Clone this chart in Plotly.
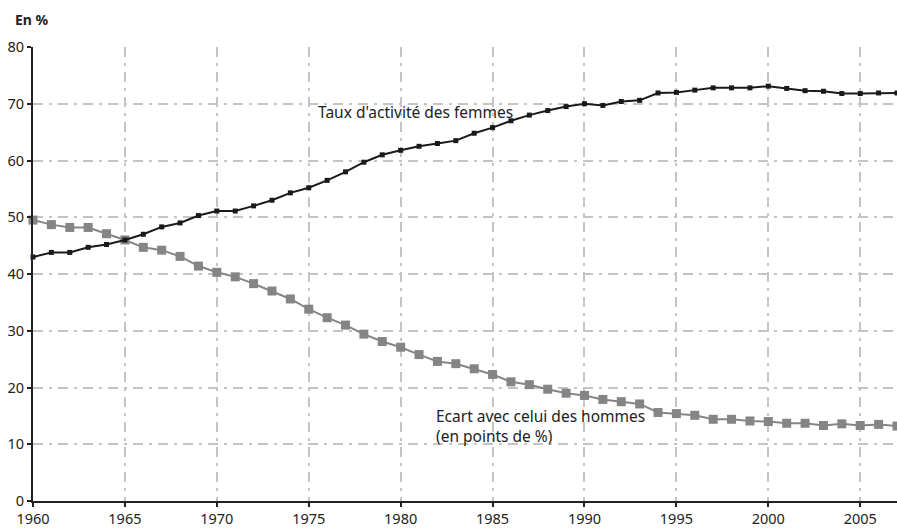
import plotly.graph_objects as go

years = list(range(1960, 2008))
taux_femmes = [43.0, 43.8, 43.8, 44.7, 45.2, 46.0, 47.0, 48.3, 49.0, 50.3,
               51.1, 51.1, 52.0, 53.0, 54.3, 55.2, 56.5, 58.0, 59.7, 61.0,
               61.8, 62.5, 63.0, 63.5, 64.8, 65.8, 67.0, 68.0, 68.8, 69.5,
               70.0, 69.7, 70.4, 70.6, 71.9, 72.0, 72.4, 72.8, 72.8, 72.8,
               73.1, 72.7, 72.3, 72.2, 71.8, 71.8, 71.9, 71.9]
ecart_hommes = [49.5, 48.7, 48.2, 48.2, 47.1, 46.0, 44.7, 44.2, 43.1, 41.4,
                40.3, 39.5, 38.3, 37.0, 35.6, 33.8, 32.3, 31.0, 29.4, 28.1,
                27.1, 25.8, 24.6, 24.2, 23.3, 22.3, 21.0, 20.5, 19.7, 19.0,
                18.6, 17.9, 17.5, 17.1, 15.6, 15.4, 15.1, 14.4, 14.4, 14.1,
                14.0, 13.7, 13.7, 13.3, 13.6, 13.3, 13.5, 13.2]
x_ticks = [1960, 1965, 1970, 1975, 1980, 1985, 1990, 1995, 2000, 2005]
y_ticks = [0, 10, 20, 30, 40, 50, 60, 70, 80]

FONT = "Noto Sans"

fig = go.Figure()
fig.add_trace(go.Scatter(
    x=years, y=ecart_hommes, mode="lines+markers",
    line=dict(color="#858585", width=2),
    marker=dict(symbol="square", size=9, color="#858585"),
    showlegend=False, cliponaxis=False))
fig.add_trace(go.Scatter(
    x=years, y=taux_femmes, mode="lines+markers",
    line=dict(color="#1a1a1a", width=2),
    marker=dict(symbol="square", size=5, color="#1a1a1a"),
    showlegend=False, cliponaxis=False))

grid_dash = "10px,6px,3px,6px"
fig.update_xaxes(
    range=[1960, 2007], tickvals=x_ticks, ticktext=[str(v) for v in x_ticks],
    showgrid=True, gridcolor="#c4c4c4", gridwidth=1.5, griddash=grid_dash,
    showline=True, linecolor="#222", linewidth=2,
    ticks="outside", ticklen=4, tickcolor="#222", tickwidth=1.5,
    tickfont=dict(family=FONT, size=14.5, color="#222"), zeroline=False,
    automargin=False)
fig.update_yaxes(
    range=[0, 80], tickvals=y_ticks, ticktext=[str(v) for v in y_ticks],
    showgrid=True, gridcolor="#c4c4c4", gridwidth=1.5, griddash=grid_dash,
    showline=True, linecolor="#222", linewidth=2,
    ticks="outside", ticklen=4, tickcolor="#222", tickwidth=1.5,
    tickfont=dict(family=FONT, size=14.5, color="#222"), zeroline=False,
    automargin=False)

fig.add_annotation(x=0.0, y=1.0, xref="paper", yref="paper", xanchor="left", yanchor="middle",
                   xshift=-20, yshift=28, text="<b>En %</b>", showarrow=False,
                   font=dict(family=FONT, size=14, color="#222"))
fig.add_annotation(x=1975.4, y=68.6, xanchor="left", yanchor="middle",
                   text="Taux d'activité des femmes", showarrow=False,
                   font=dict(family=FONT, size=15.5, color="#222"))
fig.add_annotation(x=1981.8, y=13.2, xanchor="left", yanchor="middle",
                   text="Ecart avec celui des hommes<br>(en points de %)", align="left",
                   showarrow=False, font=dict(family=FONT, size=15.5, color="#222"))

fig.update_layout(
    width=897, height=528, plot_bgcolor="white", paper_bgcolor="white",
    margin=dict(l=33, r=0, t=47, b=27),
    font=dict(family=FONT, size=14.5, color="#222"))

fig.write_html("out.html", config={"displayModeBar": False},
               post_script="document.body.style.margin='0';document.body.style.overflow='hidden';")
